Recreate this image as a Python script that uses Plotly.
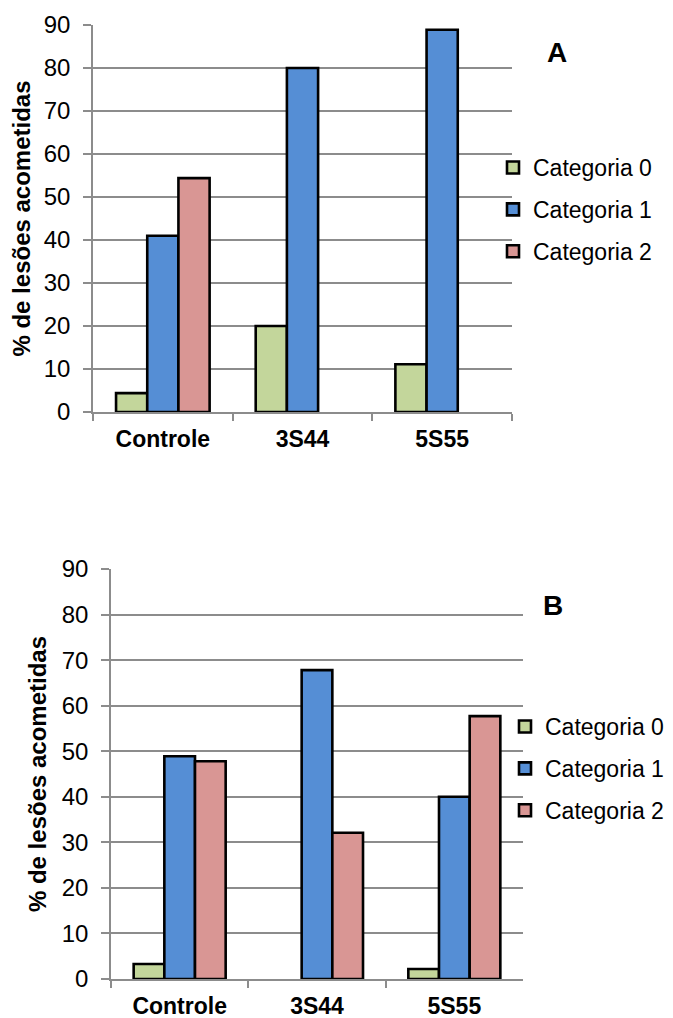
import plotly.graph_objects as go

categories = ["Controle", "3S44", "5S55"]
series_names = ["Categoria 0", "Categoria 1", "Categoria 2"]
colors = ["#C3D69B", "#558ED5", "#D99694"]

# Panel A values (%)
a_cat0 = [4.4, 20.0, 11.1]
a_cat1 = [41.0, 80.0, 88.9]
a_cat2 = [54.4, None, None]

# Panel B values (%)
b_cat0 = [3.3, None, 2.2]
b_cat1 = [48.9, 67.8, 40.0]
b_cat2 = [47.8, 32.1, 57.7]

y_ticks = [0, 10, 20, 30, 40, 50, 60, 70, 80, 90]
y_title = "% de lesões acometidas"
panel_labels = ["A", "B"]

W, H = 673, 1018
FONT = "Liberation Sans, Arial, sans-serif"
OFF = 8  # page body margin offset

fig = go.Figure()

for panel, data, xa, ya, lg in [
    (0, [a_cat0, a_cat1, a_cat2], "x", "y", "legend"),
    (1, [b_cat0, b_cat1, b_cat2], "x2", "y2", "legend2"),
]:
    for i, (name, vals) in enumerate(zip(series_names, data)):
        fig.add_trace(go.Bar(
            x=categories, y=vals, name=name,
            marker=dict(color=colors[i], line=dict(color="black", width=2.6)),
            xaxis=xa, yaxis=ya, legend=lg,
            legendgroup=f"p{panel}s{i}",
        ))

def px_x(p):
    return (p - OFF) / W

def px_y(p):
    return 1 - (p - OFF) / H

common_x = dict(
    showline=True, linecolor="#8C8C8C", linewidth=1.5,
    ticks="outside", tickson="boundaries", ticklen=7, tickcolor="#8C8C8C", tickwidth=1.5,
    tickfont=dict(family=FONT, size=23, color="black", weight="bold"),
    ticklabelstandoff=6,
    showgrid=False, zeroline=False, automargin=False,
)
common_y = dict(
    range=[0, 90], tickvals=y_ticks,
    showline=True, linecolor="#8C8C8C", linewidth=1.5,
    ticks="outside", ticklen=8, tickcolor="#8C8C8C", tickwidth=1.5,
    ticklabelstandoff=8,
    showgrid=True, gridcolor="#8C8C8C", gridwidth=1.5,
    zeroline=False, automargin=False,
    tickfont=dict(family=FONT, size=24, color="black"),
    title=dict(text=y_title, font=dict(family=FONT, size=24, color="black", weight="bold"), standoff=8),
)

legend_common = dict(
    font=dict(family=FONT, size=23, color="black"),
    bgcolor="rgba(0,0,0,0)", borderwidth=0,
    itemwidth=30, tracegroupgap=9,
    xanchor="left", yanchor="top",
)

fig.update_layout(
    width=W, height=H,
    margin=dict(l=0, r=0, t=0, b=0, autoexpand=False),
    paper_bgcolor="white", plot_bgcolor="white",
    barmode="group", bargap=0.33, bargroupgap=0,
    xaxis=dict(domain=[px_x(93), px_x(512)], anchor="y", **common_x),
    yaxis=dict(domain=[px_y(412), px_y(25)], anchor="x", **common_y),
    xaxis2=dict(domain=[px_x(111), px_x(523)], anchor="y2", **common_x),
    yaxis2=dict(domain=[px_y(979), px_y(569)], anchor="x2", **common_y),
    legend=dict(x=px_x(493), y=px_y(146), **legend_common),
    legend2=dict(x=px_x(505), y=px_y(705), **legend_common),
    showlegend=True,
    annotations=[
        dict(text=f"<b>{panel_labels[0]}</b>", x=px_x(557), y=px_y(52), xref="paper", yref="paper",
             xanchor="center", yanchor="middle",
             showarrow=False, font=dict(family=FONT, size=28, color="black")),
        dict(text=f"<b>{panel_labels[1]}</b>", x=px_x(553), y=px_y(605), xref="paper", yref="paper",
             xanchor="center", yanchor="middle",
             showarrow=False, font=dict(family=FONT, size=28, color="black")),
    ],
)

fig.write_html("out.html")
